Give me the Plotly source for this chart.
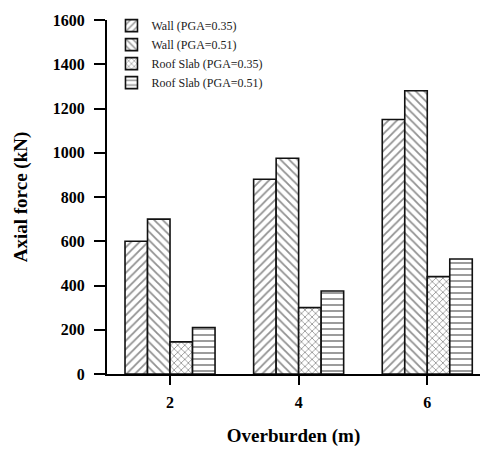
import plotly.graph_objects as go

overburden = [2, 4, 6]
wall_035 = [600, 880, 1150]
wall_051 = [700, 975, 1280]
roof_035 = [145, 300, 440]
roof_051 = [210, 375, 520]
y_ticks = [0, 200, 400, 600, 800, 1000, 1200, 1400, 1600]

series = [
    ("Wall (PGA=0.35)", wall_035, "/"),
    ("Wall (PGA=0.51)", wall_051, "\\"),
    ("Roof Slab (PGA=0.35)", roof_035, "x"),
    ("Roof Slab (PGA=0.51)", roof_051, "-"),
]

fig = go.Figure()
for name, vals, shape in series:
    fig.add_trace(go.Bar(
        x=overburden, y=vals, name=name,
        marker=dict(
            color="white",
            line=dict(color="#111", width=1.6),
            pattern=dict(shape=shape, fgcolor="#222", bgcolor="white",
                         size=5 if shape == "x" else 6, solidity=0.3),
        ),
    ))

font_family = "Liberation Serif"
fig.update_layout(
    width=488, height=452,
    margin=dict(l=107, r=8, t=20, b=78),
    paper_bgcolor="white", plot_bgcolor="white",
    barmode="group", bargap=0.3, bargroupgap=0,
    font=dict(family=font_family, color="black"),
    legend=dict(
        x=0.012, y=1.025, xanchor="left", yanchor="top",
        font=dict(size=12, family=font_family, color="#222"),
        bgcolor="rgba(0,0,0,0)", tracegroupgap=0, itemwidth=30,
    ),
    xaxis=dict(
        range=[1.02, 6.82], tickvals=overburden, ticktext=[f"<b>{v}</b>" for v in overburden],
        showline=True, linecolor="black", linewidth=2,
        ticks="outside", ticklen=9, tickwidth=2, tickcolor="black",
        ticklabelstandoff=4,
        showgrid=False, zeroline=False,
        tickfont=dict(size=16, family=font_family),
        title=dict(text="<b>Overburden (m)</b>", font=dict(size=19, family=font_family), standoff=18),
    ),
    yaxis=dict(
        range=[0, 1600], tickvals=y_ticks, ticktext=[f"<b>{v}</b>" for v in y_ticks],
        showline=True, linecolor="black", linewidth=2,
        ticks="outside", ticklen=11, tickwidth=2, tickcolor="black",
        ticklabelstandoff=6,
        showgrid=False, zeroline=False,
        tickfont=dict(size=16, family=font_family),
        title=dict(text="<b>Axial force (kN)</b>", font=dict(size=19, family=font_family), standoff=20),
    ),
)

fig.write_html("out.html")
